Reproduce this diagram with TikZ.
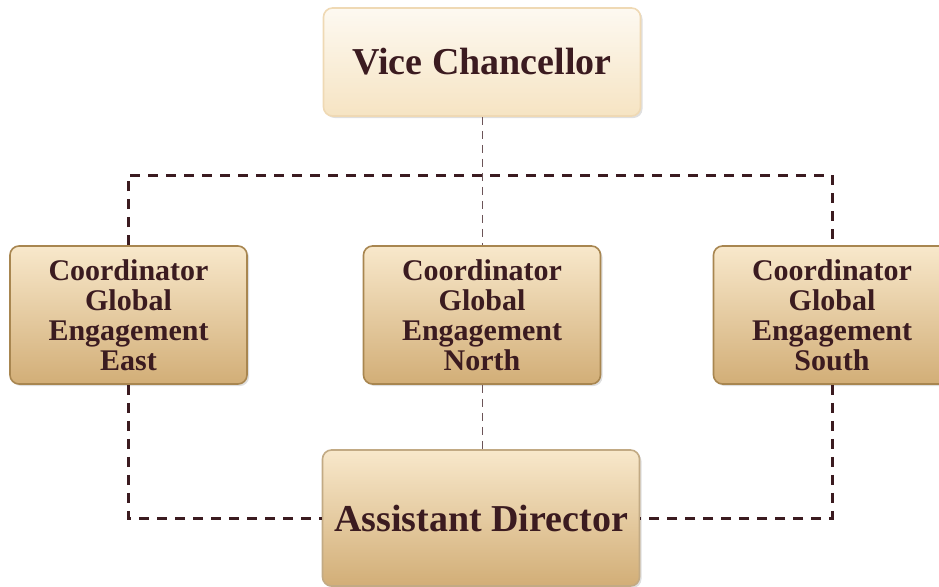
\documentclass[tikz,border=0pt]{standalone}
\usepackage{fontspec}
\setmainfont{Liberation Serif}
\usetikzlibrary{shadows}

\definecolor{inkbrown}{HTML}{3B1B20}
\definecolor{creamtop}{HTML}{FDF9F1}
\definecolor{creambot}{HTML}{F6E4C3}
\definecolor{tantop}{HTML}{F8E8CB}
\definecolor{tanbot}{HTML}{D2AE77}
\definecolor{tanedge}{HTML}{A88650}

\tikzset{
  officebox/.style={rectangle, rounded corners=9pt, inner sep=0pt, align=center,
    text=inkbrown, font=\bfseries, line width=1.6pt,
    drop shadow={shadow xshift=2pt, shadow yshift=-2pt, opacity=0.25}},
  topbox/.style={officebox, draw=creambot!80!tanbot, top color=creamtop, bottom color=creambot,
    minimum width=317pt, minimum height=108pt, font=\bfseries\fontsize{38}{40}\selectfont},
  coordbox/.style={officebox, draw=tanedge, top color=tantop, bottom color=tanbot,
    minimum width=237pt, minimum height=138pt, text width=230pt,
    font=\bfseries\fontsize{30}{30}\selectfont},
  assistbox/.style={officebox, draw=tanedge!70, top color=tantop, bottom color=tanbot,
    minimum width=317pt, minimum height=136pt, font=\bfseries\fontsize{38}{40}\selectfont},
  linkthick/.style={draw=inkbrown, line width=3pt, dash pattern=on 10pt off 8pt},
  linkthin/.style={draw=inkbrown!75, line width=1pt, dash pattern=on 8pt off 6pt}
}

\begin{document}
\begin{tikzpicture}[x=1pt, y=-1pt]
    \useasboundingbox (0,0) rectangle (939,586);

    %Boxes
    \node[topbox] (vc) at (482,62) {Vice Chancellor};
    \foreach \n/\x/\t in {east/128.5/East, north/482/North, south/832/South}
      \node[coordbox] (\n) at (\x,315) {Coordinator\\Global\\Engagement\\\t};
    \node[assistbox] (ad) at (481,518) {Assistant Director};

    %Links
    \coordinate (bus) at (vc.south |- 0,175);
    \draw[linkthick] (east.north) |- (bus) -| (south.north);
    \draw[linkthick] (east.south) |- (ad.west);
    \draw[linkthick] (south.south) |- (ad.east);
    \draw[linkthin] (vc.south) -- (north.north);
    \draw[linkthin] (north.south) -- (north.south |- ad.north);
\end{tikzpicture}
\end{document}
